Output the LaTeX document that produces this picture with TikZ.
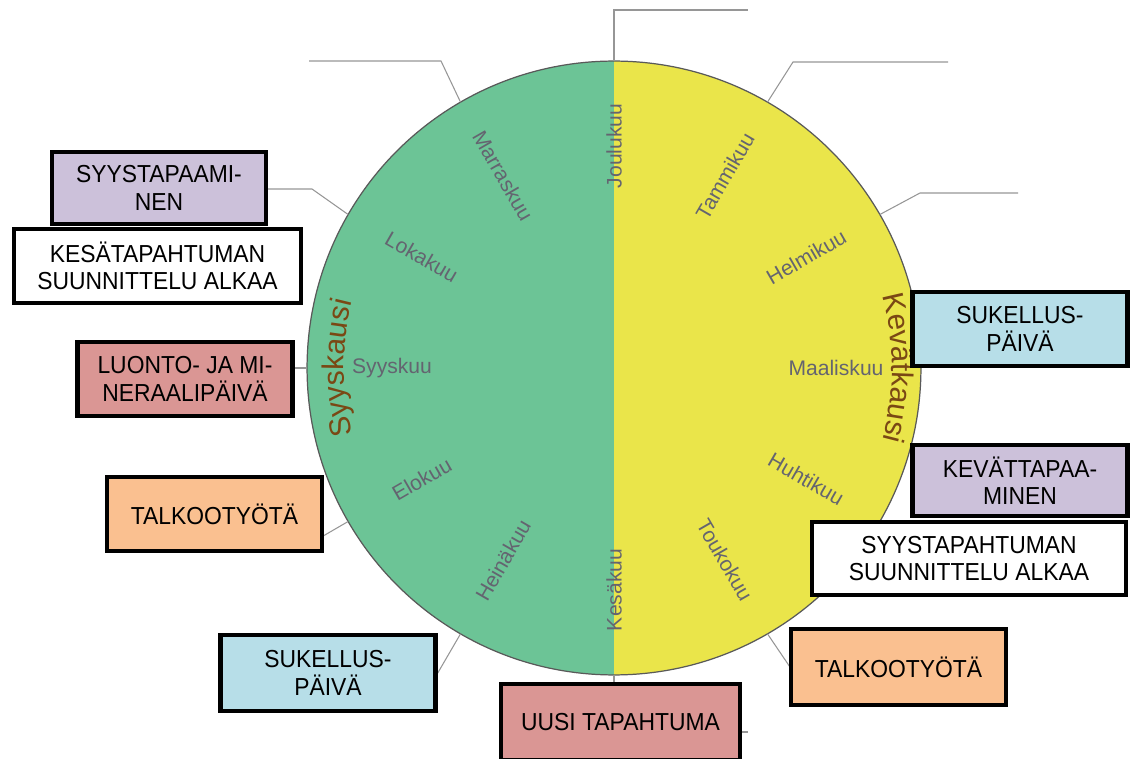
\documentclass[tikz,border=0pt]{standalone}
\usepackage{fontspec}
\setmainfont{Liberation Sans}
\newfontfamily\boxfont[FakeStretch=0.93]{Liberation Sans}
\usepackage{tikz}
\usetikzlibrary{shapes, decorations.text}
\usepackage{xcolor}

\definecolor{syysgreen}{RGB}{108,196,150}
\definecolor{kevatyellow}{RGB}{234,229,74}
\definecolor{monthgray}{RGB}{100,100,112}
\definecolor{seasonbrown}{RGB}{122,72,20}
\definecolor{leadergray}{RGB}{150,150,150}
\definecolor{lilac}{RGB}{204,193,218}
\definecolor{rose}{RGB}{218,150,148}
\definecolor{peach}{RGB}{250,192,144}
\definecolor{skyblue}{RGB}{183,222,232}
\newcommand{\seasonfont}{\fontsize{17}{20}\selectfont}

\begin{document}
\begin{tikzpicture}[x=0.02cm, y=0.02cm]
            \tikzstyle{wheel} = [circle, minimum size=12.28cm, inner sep=0pt, outer sep=0pt, draw=black!65, line width=0.7pt]
            \tikzstyle{month} = [text=monthgray, font=\fontsize{12}{14}\selectfont]
            \tikzstyle{leader} = [draw=leadergray, line width=0.6pt]
            \tikzstyle{event} = [rectangle, draw=black, line width=2.6pt, minimum width=4.3cm, minimum height=1.48cm, inner sep=2pt, align=center, font=\boxfont\fontsize{14}{15.5}\selectfont]
            \tikzstyle{season} = [decorate, decoration={text along path, text align=center, text color=seasonbrown}]

            \useasboundingbox (0,0) rectangle (1133,758);
            \coordinate (c) at (614,390);

            % the year wheel
            \fill[syysgreen] ([shift={(90:307)}]c) arc[start angle=90, end angle=270, radius=307] -- cycle;
            \fill[kevatyellow] ([shift={(-90:307)}]c) arc[start angle=-90, end angle=90, radius=307] -- cycle;
            \node (wheel)[wheel] at (c) {};

            \foreach \ang/\kk [count=\i] in {90/Joulukuu, 60/Tammikuu, 30/Helmikuu, 0/Maaliskuu, -30/Huhtikuu, -60/Toukokuu}
                \node (kev\i)[month, rotate=\ang] at ([shift={(\ang:222)}]c) {\kk};
            \foreach \ang/\kk [count=\i] in {270/Kesäkuu, 240/Heinäkuu, 210/Elokuu, 180/Syyskuu, 150/Lokakuu, 120/Marraskuu}
                \node (syy\i)[month, rotate=\ang-180] at ([shift={(\ang:222)}]c) {\kk};

            \path[season, decoration={text={|\seasonfont|Syyskausi}}] ([shift={(200:270)}]c) arc[start angle=200, end angle=160, radius=270];
            \path[season, decoration={text={|\seasonfont|Kevätkausi}}] ([shift={(20:278)}]c) arc[start angle=20, end angle=-20, radius=278];

            % leader lines
            \coordinate (topend) at (748,748);
            \coordinate (ulbend) at (441,697);
            \coordinate (ulend) at (309,697);
            \coordinate (urbend) at (793,696);
            \coordinate (urend) at (948,696);
            \coordinate (lubend) at (312,569);
            \coordinate (luend) at (262,569);
            \coordinate (rubend) at (920,565);
            \coordinate (ruend) at (1018,565);
            \coordinate (lmend) at (285,390);
            \coordinate (llend) at (318,219);
            \coordinate (blend) at (436,82);
            \coordinate (botend) at (748,26);
            \coordinate (brend) at (792,88);
            \draw[leader] (wheel.90) |- (topend);
            \draw[leader] (wheel.120) -- (ulbend) -- (ulend);
            \draw[leader] (wheel.60) -- (urbend) -- (urend);
            \draw[leader] (wheel.150) -- (lubend) -- (luend);
            \draw[leader] (wheel.30) -- (rubend) -- (ruend);
            \draw[leader] (wheel.180) -- (lmend);
            \draw[leader] (wheel.210) -- (llend);
            \draw[leader] (wheel.240) -- (blend);
            \draw[leader] (wheel.270) |- (botend);
            \draw[leader] (wheel.300) -- (brend);

            % events, autumn side
            \node (syystap)[event, fill=lilac, minimum width=4.28cm, minimum height=1.44cm] at (159,570) {SYYSTAPAAMI-\\NEN};
            \node (kesasuun)[event, fill=white, minimum width=5.74cm] at (157.5,492) {KESÄTAPAHTUMAN\\SUUNNITTELU ALKAA};
            \node (luonto)[event, fill=rose] at (185,379) {LUONTO- JA MI-\\NERAALIPÄIVÄ};
            \node (talkoo1)[event, fill=peach] at (214.5,244) {TALKOOTYÖTÄ};
            \node (sukellus1)[event, fill=skyblue, minimum height=1.52cm] at (328,85) {SUKELLUS-\\PÄIVÄ};
            \node (uusi)[event, fill=rose, minimum width=4.78cm, minimum height=1.52cm] at (620.5,36) {UUSI TAPAHTUMA};
            % events, spring side
            \node (sukellus2)[event, fill=skyblue] at (1020,429) {SUKELLUS-\\PÄIVÄ};
            \node (kevattap)[event, fill=lilac, minimum height=1.42cm] at (1020,277.5) {KEVÄTTAPAA-\\MINEN};
            \node (syysuun)[event, fill=white, minimum width=6.28cm, minimum height=1.46cm] at (969,199.5) {SYYSTAPAHTUMAN\\SUUNNITTELU ALKAA};
            \node (talkoo2)[event, fill=peach, minimum height=1.52cm] at (898.5,91) {TALKOOTYÖTÄ};
\end{tikzpicture}
\end{document}
